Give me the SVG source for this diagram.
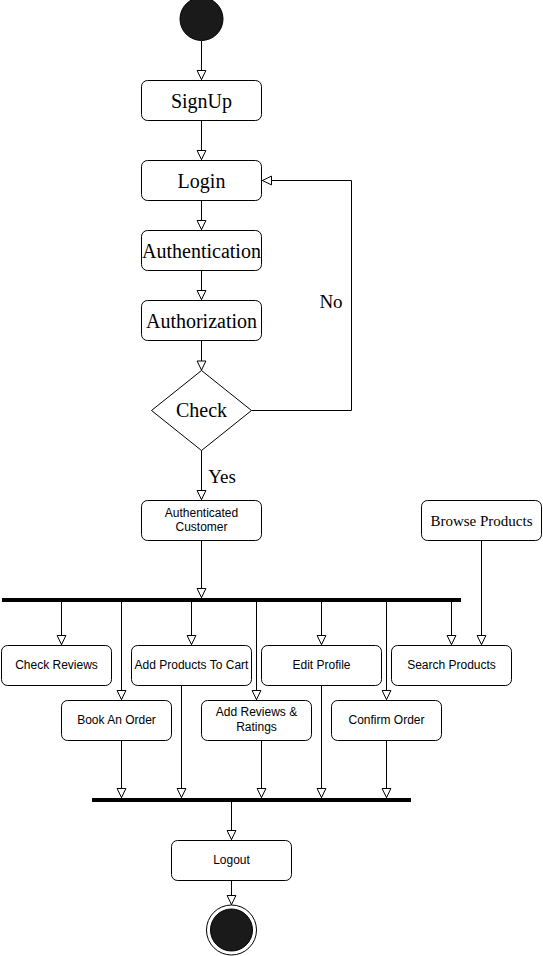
<svg xmlns="http://www.w3.org/2000/svg" width="543" height="956" viewBox="0 0 543 956">
  <style>
    .box { fill: #ffffff; stroke: #000000; stroke-width: 1; }
    .edge { fill: none; stroke: #000000; stroke-width: 1; marker-end: url(#open); }
    .serif { font-family: "Liberation Serif", "Times New Roman", serif; fill: #000000; text-anchor: middle; }
    .sans { font-family: "Liberation Sans", Arial, sans-serif; font-size: 12px; fill: #000000; text-anchor: middle; }
    .bar { fill: #000000; }
  </style>
  <defs>
    <marker id="open" viewBox="0 0 10 10" refX="10" refY="5" markerWidth="10" markerHeight="10" markerUnits="userSpaceOnUse" orient="auto" overflow="visible">
      <path d="M0.5,0.6 L9.6,5 L0.5,9.4 Z" fill="#ffffff" stroke="#000000" stroke-width="1"/>
    </marker>
  </defs>

  <rect width="543" height="956" fill="#ffffff"/>

  <!-- connectors -->
  <g id="connectors">
    <path class="edge" d="M201.5,41 V80"/>
    <path class="edge" d="M201.5,120.5 V160"/>
    <path class="edge" d="M201.5,200.5 V230"/>
    <path class="edge" d="M201.5,270.5 V300"/>
    <path class="edge" d="M201.5,340.5 V370.5"/>
    <path class="edge" d="M251.5,410.5 H351.5 V180.5 H262"/>
    <path class="edge" d="M201.5,450 V500"/>
    <path class="edge" d="M201.5,540.5 V598"/>
    <!-- fork outputs -->
    <path class="edge" d="M61.5,602 V645"/>
    <path class="edge" d="M121.5,602 V700"/>
    <path class="edge" d="M191.5,602 V645"/>
    <path class="edge" d="M256.5,602 V700"/>
    <path class="edge" d="M321.5,602 V645"/>
    <path class="edge" d="M386.5,602 V700"/>
    <path class="edge" d="M451.5,602 V645"/>
    <path class="edge" d="M481.5,540.5 V645"/>
    <!-- join inputs -->
    <path class="edge" d="M121.5,740.5 V798"/>
    <path class="edge" d="M181.5,685.5 V798"/>
    <path class="edge" d="M261.5,740.5 V798"/>
    <path class="edge" d="M321.5,685.5 V798"/>
    <path class="edge" d="M386.5,740.5 V798"/>
    <path class="edge" d="M231.5,802 V840"/>
    <path class="edge" d="M231.5,880.5 V905"/>
    <text class="serif" x="331" y="308" font-size="19">No</text>
    <text class="serif" x="222" y="483" font-size="19">Yes</text>
  </g>

  <g id="start">
    <circle cx="201.5" cy="19" r="21.5" fill="#1a1a1a" stroke="#000000"/>
  </g>

  <g id="signup">
    <rect class="box" x="141.5" y="80.5" width="120" height="40" rx="6"/>
    <text class="serif" x="201.5" y="108" font-size="20">SignUp</text>
  </g>

  <g id="login">
    <rect class="box" x="141.5" y="160.5" width="120" height="40" rx="6"/>
    <text class="serif" x="201.5" y="188" font-size="20">Login</text>
  </g>

  <g id="authentication">
    <rect class="box" x="141.5" y="230.5" width="120" height="40" rx="6"/>
    <text class="serif" x="201.5" y="258" font-size="20">Authentication</text>
  </g>

  <g id="authorization">
    <rect class="box" x="141.5" y="300.5" width="120" height="40" rx="6"/>
    <text class="serif" x="201.5" y="328" font-size="20">Authorization</text>
  </g>

  <g id="check">
    <path class="box" d="M201.5,370.5 L251.5,410.5 L201.5,450.5 L151.5,410.5 Z"/>
    <text class="serif" x="201.5" y="417" font-size="20">Check</text>
  </g>

  <g id="authenticated-customer">
    <rect class="box" x="141.5" y="500.5" width="120" height="40" rx="6"/>
    <text class="sans" x="201.5" y="517">Authenticated</text>
    <text class="sans" x="201.5" y="531">Customer</text>
  </g>

  <g id="browse-products">
    <rect class="box" x="421.5" y="500.5" width="120" height="40" rx="6"/>
    <text class="serif" x="481.5" y="526" font-size="15">Browse Products</text>
  </g>

  <g id="fork">
    <rect class="bar" x="2" y="598" width="459" height="4"/>
  </g>

  <g id="check-reviews">
    <rect class="box" x="1.5" y="645.5" width="110" height="40" rx="6"/>
    <text class="sans" x="56.5" y="669">Check Reviews</text>
  </g>

  <g id="add-products-to-cart">
    <rect class="box" x="131.5" y="645.5" width="120" height="40" rx="6"/>
    <text class="sans" x="191.5" y="669">Add Products To Cart</text>
  </g>

  <g id="edit-profile">
    <rect class="box" x="261.5" y="645.5" width="120" height="40" rx="6"/>
    <text class="sans" x="321.5" y="669">Edit Profile</text>
  </g>

  <g id="search-products">
    <rect class="box" x="391.5" y="645.5" width="120" height="40" rx="6"/>
    <text class="sans" x="451.5" y="669">Search Products</text>
  </g>

  <g id="book-an-order">
    <rect class="box" x="61.5" y="700.5" width="110" height="40" rx="6"/>
    <text class="sans" x="116.5" y="724">Book An Order</text>
  </g>

  <g id="add-reviews-ratings">
    <rect class="box" x="201.5" y="700.5" width="110" height="40" rx="6"/>
    <text class="sans" x="256.5" y="716">Add Reviews &amp;</text>
    <text class="sans" x="256.5" y="731">Ratings</text>
  </g>

  <g id="confirm-order">
    <rect class="box" x="331.5" y="700.5" width="110" height="40" rx="6"/>
    <text class="sans" x="386.5" y="724">Confirm Order</text>
  </g>

  <g id="join">
    <rect class="bar" x="92" y="798" width="319" height="4"/>
  </g>

  <g id="logout">
    <rect class="box" x="171.5" y="840.5" width="120" height="40" rx="6"/>
    <text class="sans" x="231.5" y="864">Logout</text>
  </g>

  <g id="end">
    <circle cx="231.5" cy="930" r="25" fill="#ffffff" stroke="#000000"/>
    <circle cx="231.5" cy="930" r="21" fill="#1a1a1a" stroke="#000000"/>
  </g>
</svg>
